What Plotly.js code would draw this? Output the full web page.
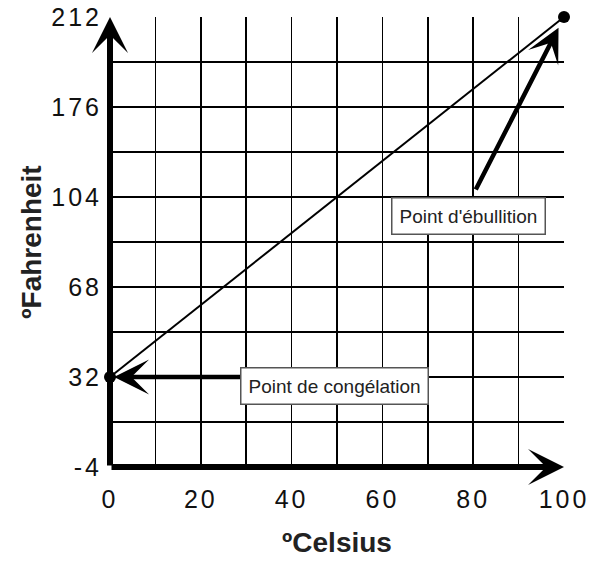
<!DOCTYPE html>
<html>
<head>
<meta charset="utf-8">
<script src="https://cdn.plot.ly/plotly-3.0.1.min.js"></script>
<style>
html,body{margin:0;padding:0;background:#fff;}
#chart{width:603px;height:562px;}
#chart .xtick text, #chart .ytick text{letter-spacing:3px;}
</style>
</head>
<body>
<div id="chart"></div>
<script>
// ---- data ----
const celsius = [0, 100];
const fahrenheit = [32, 212];
const xTickLabels = ['0', '20', '40', '60', '80', '100'];
const yTickLabels = ['-4', '32', '68', '104', '176', '212'];
const freezeLabel = 'Point de congélation';
const boilLabel = "Point d'ébullition";
const xTitle = 'ºCelsius';
const yTitle = 'ºFahrenheit';

// axis set-up (y gridlines: 10 equal steps, labels on every other line)
const yMax = 212, yStep = 22.5, yMin = yMax - 10 * yStep;
const yTickVals = yTickLabels.map((_, i) => yMin + i * 2 * yStep);
const xTickVals = xTickLabels.map(Number);

const tickFont = {family: 'Liberation Sans, Arial, sans-serif', size: 25, color: '#111'};
const titleFont = {family: 'Liberation Sans, Arial, sans-serif', size: 28, color: '#222', weight: 'bold'};
const boxFont = {family: 'Liberation Sans, Arial, sans-serif', size: 19, color: '#222'};

const trace = {
  x: celsius, y: fahrenheit, type: 'scatter', mode: 'lines+markers',
  line: {color: '#000', width: 2}, marker: {color: '#000', size: 12},
  cliponaxis: false, hoverinfo: 'skip'
};

const layout = {
  width: 603, height: 562, autosize: false,
  margin: {l: 110, r: 39, t: 17, b: 95},
  paper_bgcolor: '#fff', plot_bgcolor: '#fff',
  showlegend: false,
  xaxis: {
    range: [0, 100], tickmode: 'array', tickvals: xTickVals, ticktext: xTickLabels,
    ticks: 'outside', ticklen: 10, tickcolor: 'rgba(0,0,0,0)',
    showgrid: true, gridcolor: '#000', gridwidth: 1.6,
    minor: {dtick: 10, tick0: 0, showgrid: true, gridcolor: '#000', gridwidth: 1.6},
    zeroline: false, showline: false, tickfont: tickFont,
    title: {text: xTitle, font: titleFont, standoff: 20}
  },
  yaxis: {
    range: [yMin, yMax], tickmode: 'array', tickvals: yTickVals, ticktext: yTickLabels,
    ticks: 'outside', ticklen: 2, tickcolor: 'rgba(0,0,0,0)',
    showgrid: true, gridcolor: '#000', gridwidth: 1.6,
    minor: {dtick: yStep, tick0: yMin, showgrid: true, gridcolor: '#000', gridwidth: 1.6},
    zeroline: false, showline: false, tickfont: tickFont,
    title: {text: yTitle, font: titleFont, standoff: 10}
  },
  annotations: [
    // y axis arrow
    {x: celsius[0], y: yMax, ax: celsius[0], ay: yMin, xref: 'x', yref: 'y', axref: 'x', ayref: 'y',
     text: '', showarrow: true, arrowhead: 3, arrowwidth: 6, arrowsize: 1, arrowcolor: '#000'},
    // x axis arrow
    {x: celsius[1], y: yMin, ax: celsius[0], ay: yMin, xref: 'x', yref: 'y', axref: 'x', ayref: 'y',
     text: '', showarrow: true, arrowhead: 3, arrowwidth: 6, arrowsize: 1, arrowcolor: '#000'},
    // boiling point arrow
    {x: celsius[1], y: fahrenheit[1], ax: -89, ay: 174, xref: 'x', yref: 'y',
     text: '', showarrow: true, arrowhead: 3, arrowwidth: 4.5, arrowsize: 1.25, standoff: 12, arrowcolor: '#000'},
    // freezing point arrow
    {x: celsius[0], y: fahrenheit[0], ax: 133, ay: 0, xref: 'x', yref: 'y',
     text: '', showarrow: true, arrowhead: 3, arrowwidth: 4.5, arrowsize: 1.3, standoff: 4, arrowcolor: '#000'},
    // label boxes
    {x: 49.4, y: 27.75, xref: 'x', yref: 'y', text: freezeLabel, showarrow: false,
     font: boxFont, bgcolor: '#fff', bordercolor: '#555', borderwidth: 1.5, borderpad: 7},
    {x: 78.9, y: 112.5, xref: 'x', yref: 'y', text: boilLabel, showarrow: false,
     font: boxFont, bgcolor: '#fff', bordercolor: '#555', borderwidth: 1.5, borderpad: 7}
  ]
};

Plotly.newPlot('chart', [trace], layout, {staticPlot: true, displayModeBar: false});
</script>
</body>
</html>
